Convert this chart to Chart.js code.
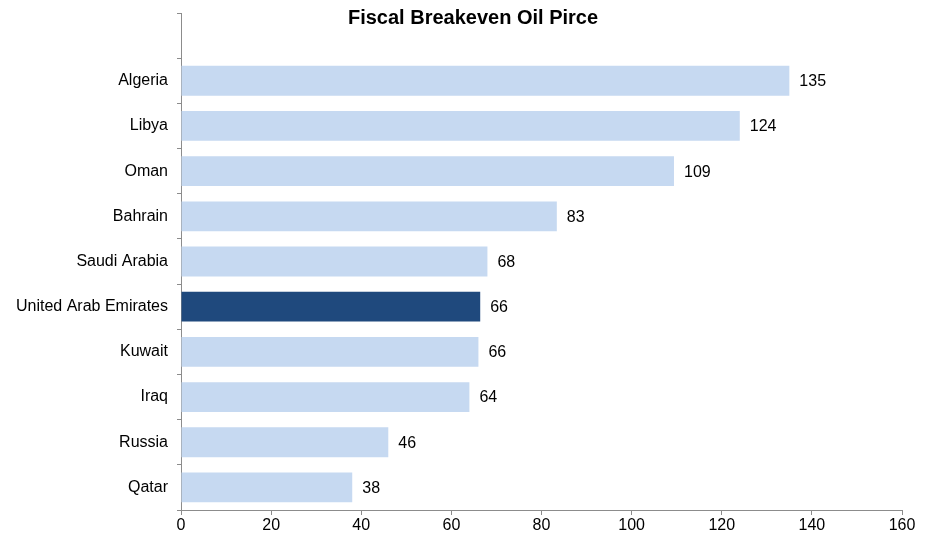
<!DOCTYPE html>
<html>
<head>
<meta charset="utf-8">
<script src="https://cdn.jsdelivr.net/npm/chart.js@4"></script>
<style>
  html, body { margin: 0; padding: 0; background: #fff; }
  #wrap { width: 930px; height: 535px; }
</style>
</head>
<body>
<div id="wrap"><canvas id="myChart" width="930" height="535"></canvas></div>
<script>
var countries = ['Algeria', 'Libya', 'Oman', 'Bahrain', 'Saudi Arabia', 'United Arab Emirates', 'Kuwait', 'Iraq', 'Russia', 'Qatar'];
var breakeven = [135, 124, 109.4, 83.4, 68, 66.4, 66, 64, 46, 38];
var xTicks = [0, 20, 40, 60, 80, 100, 120, 140, 160];
var chartTitle = 'Fiscal Breakeven Oil Pirce';

var lightBlue = '#C6D9F1';
var darkBlue = '#1F497D';
var axisGray = '#8C8C8C';
var font = 'Liberation Sans, Arial, sans-serif';

// empty slot at the top holds the title
var labels = [''].concat(countries);
var values = [null].concat(breakeven);
var colors = labels.map(function (c) {
  return c == 'United Arab Emirates' ? darkBlue : lightBlue;
});

var extras = {
  id: 'extras',
  afterDatasetsDraw: function (chart) {
    var c = chart.ctx;
    var meta = chart.getDatasetMeta(0);
    c.save();
    c.fillStyle = '#000';
    c.font = '16px ' + font;
    c.textAlign = 'left';
    c.textBaseline = 'middle';
    meta.data.forEach(function (bar, i) {
      if (values[i] == null) return;
      c.fillText(Math.round(values[i]), bar.x + 10, bar.y + 1);
    });
    c.font = 'bold 20px ' + font;
    c.textAlign = 'center';
    c.fillText(chartTitle, 473, 18);
    c.restore();
  }
};

var ctx = document.getElementById('myChart');
var myChart = new Chart(ctx, {
  type: 'bar',
  data: {
    labels: labels,
    datasets: [{
      data: values,
      backgroundColor: colors,
      categoryPercentage: 0.66,
      barPercentage: 1
    }]
  },
  options: {
    indexAxis: 'y',
    responsive: false,
    animation: false,
    layout: { padding: { top: 13, right: 28, left: 0, bottom: 0 } },
    plugins: {
      legend: { display: false },
      tooltip: { enabled: false }
    },
    scales: {
      x: {
        min: 0,
        max: 160,
        afterBuildTicks: function (scale) {
          scale.ticks = xTicks.map(function (v) { return { value: v }; });
        },
        afterFit: function (scale) { scale.height = 25; scale.paddingRight = 0; scale.paddingLeft = 0; },
        grid: { drawOnChartArea: false, drawTicks: true, tickLength: 5, color: axisGray },
        border: { color: axisGray, width: 1 },
        ticks: { color: '#000', font: { family: font, size: 16 }, padding: 1, maxRotation: 0 }
      },
      y: {
        afterFit: function (scale) { scale.width = 181; scale.paddingTop = 0; scale.paddingBottom = 0; },
        grid: { drawOnChartArea: false, drawTicks: true, tickLength: 4, color: axisGray, offset: true },
        border: { color: axisGray, width: 1 },
        ticks: { color: '#000', font: { family: font, size: 16 }, padding: 9 }
      }
    }
  },
  plugins: [extras]
});
</script>
</body>
</html>
